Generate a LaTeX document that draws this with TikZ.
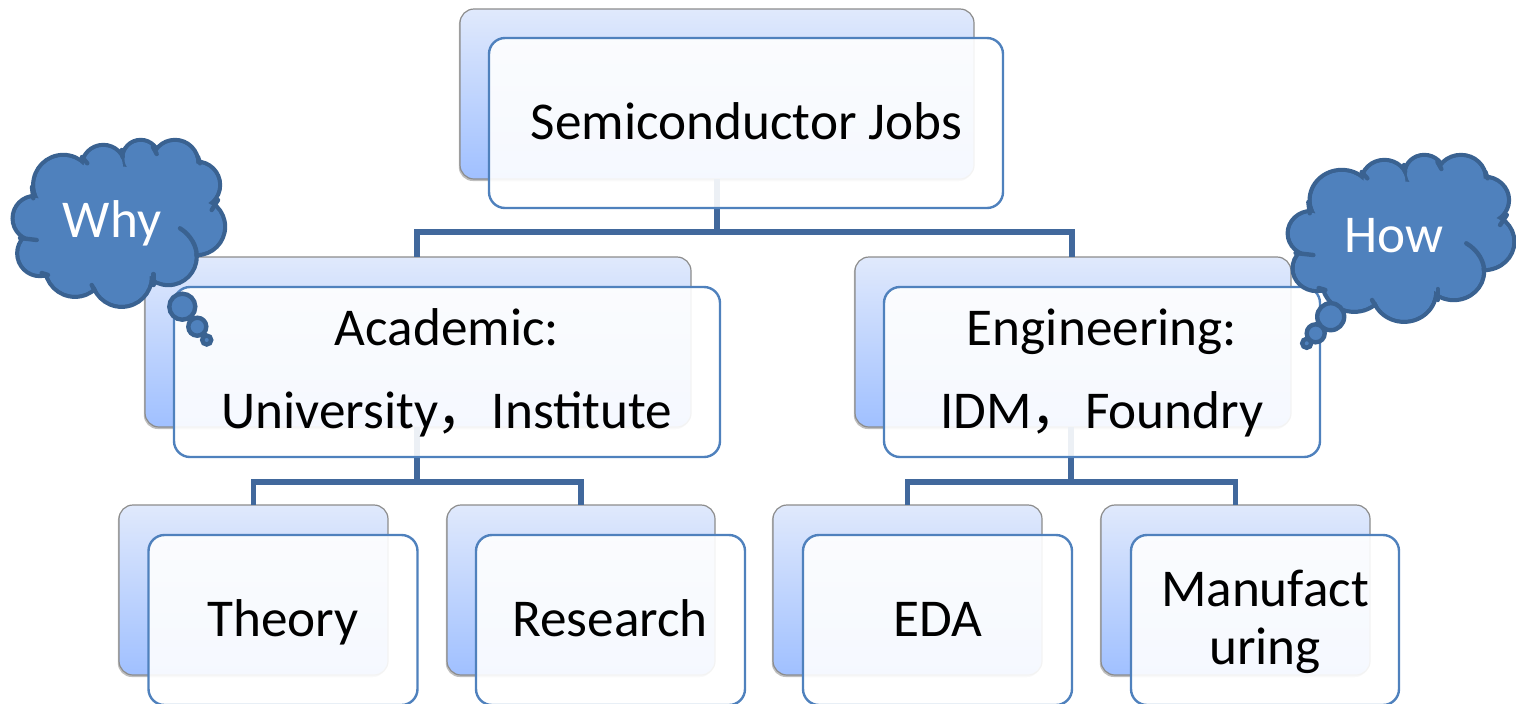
\documentclass[tikz,border=0pt]{standalone}
\usepackage{fontspec}
\setmainfont{Carlito}
\newfontfamily\cjk{Noto Sans CJK SC}
\usetikzlibrary{shadows}
\definecolor{lineblue}{HTML}{41689C}
\definecolor{frontblue}{HTML}{4F81BD}
\definecolor{cloudfill}{HTML}{4F81BD}
\definecolor{cloudline}{HTML}{3A6291}
\definecolor{backtop}{HTML}{E0E9FC}
\definecolor{backbot}{HTML}{A0C0FF}
\tikzset{
  x=0.5pt,y=-0.5pt,
  backbox/.style={draw=black!45,line width=0.6pt,rounded corners=7pt,top color=backtop,bottom color=backbot,minimum height=85pt,inner sep=0pt,outer sep=0pt,drop shadow={shadow xshift=-0.6pt,shadow yshift=-1pt,fill=black,opacity=.25}},
  frontbox/.style={draw=frontblue,line width=1.2pt,rounded corners=8pt,fill=white,fill opacity=0.9,minimum height=85pt,inner sep=0pt,outer sep=0pt},
  conn/.style={draw=lineblue,line width=2.8pt},
  lbl/.style={anchor=base,font=\fontsize{26.6}{32}\selectfont,text=black,inner sep=0pt},
  cloudlbl/.style={anchor=base,font=\fontsize{26.6}{32}\selectfont,text=white,inner sep=0pt},
  cloudedge/.style={draw=cloudline,line width=2.2pt,fill=cloudfill},
  cloudtail/.style={draw=cloudline,line width=2.2pt,line cap=round},
}
\newcommand{\lobes}[2]{%
  \path[#1] (63.3,185) circle[radius=30-#2] (103.3,166.7) circle[radius=21.7-#2]
  (140.7,158.3) circle[radius=18.3-#2] (175,163.3) circle[radius=23.3-#2]
  (196.7,185) circle[radius=23.3-#2] (196.7,226.7) circle[radius=28.3-#2]
  (168.3,256.7) circle[radius=28.3-#2] (121.7,276.7) circle[radius=30-#2]
  (75,266.7) circle[radius=30-#2] (40,253.3) circle[radius=22.7-#2]
  (35,218.3) circle[radius=22.3-#2];}
\newcommand{\cloudshape}{%
  \lobes{cloudedge}{0}
  \lobes{fill=cloudfill}{2}
  \fill[cloudfill] (50,190) -- (90,165) -- (190,170) -- (205,215) -- (180,262) -- (120,290) -- (60,282) -- (40,240) -- cycle;
  \draw[cloudtail] (87.3,163.3) -- (82,157);
  \draw[cloudtail] (122.7,157) -- (121.7,150);
  \draw[cloudtail] (156.7,154) -- (153,147);
  \draw[cloudtail] (200,163.3) -- (198,157);
  \draw[cloudtail] (211.7,210) -- (218,200);
  \draw[cloudtail] (180,228.3) .. controls (191,235) and (197,247) .. (196.7,256);
  \draw[cloudtail] (153.3,274) -- (153.3,285);
  \draw[cloudtail] (91.7,285) -- (95,291);
  \draw[cloudtail] (41.7,273) -- (48,275);
  \draw[cloudtail] (36.7,240) -- (20,238);
  \draw[cloudtail] (33.3,198.3) -- (32,187);
}
\begin{document}
\begin{tikzpicture}
\useasboundingbox (0,0) rectangle (1516,703);
\clip (0,0) rectangle (1516,703);
% back boxes
\node[backbox,minimum width=257pt] (rootB) at (717,94) {};
\node[backbox,minimum width=273pt] (acaB) at (418,342) {};
\node[backbox,minimum width=218pt] (engB) at (1073,342) {};
\node[backbox,minimum width=134.5pt] (thB) at (253.5,590) {};
\node[backbox,minimum width=134pt] (reB) at (581,590) {};
\node[backbox,minimum width=134.5pt] (edB) at (907.5,590) {};
\node[backbox,minimum width=134.5pt] (maB) at (1235.5,590) {};
% connectors
\draw[conn] (rootB.south) -- (717,232) coordinate (t1) -| ([xshift=-0.5pt]acaB.north);
\draw[conn] (t1) -| ([xshift=-0.5pt]engB.north);
\draw[conn] ([xshift=-0.5pt]acaB.south) -- (417,482) coordinate (t2) -| (thB.north);
\draw[conn] (t2) -| (reB.north);
\draw[conn] ([xshift=-1pt]engB.south) -- (1071,482) coordinate (t3) -| (edB.north);
\draw[conn] (t3) -| (maB.north);
% front boxes
\node[frontbox,minimum width=257pt] (rootF) at (746,123) {};
\node[frontbox,minimum width=273pt] (acaF) at (447,372) {};
\node[frontbox,minimum width=218pt] (engF) at (1102,372) {};
\node[frontbox,minimum width=134.5pt] (thF) at (283,620) {};
\node[frontbox,minimum width=134.5pt] (reF) at (610.5,620) {};
\node[frontbox,minimum width=134.5pt] (edF) at (937.5,620) {};
\node[frontbox,minimum width=134pt] (maF) at (1265,620) {};
% labels
\node[lbl] (t0) at (746.5,139) {Semiconductor Jobs};
\node[lbl] (ta1) at (447,345) {Academic:};
\node[lbl] (ta2) at (447,428) {University\hspace{-0.03em}{\cjk ，}\hspace{0.03em}Institute};
\node[lbl] (te1) at (1102,345) {Engineering:};
\node[lbl] (te2) at (1102,428) {IDM\hspace{-0.03em}{\cjk ，}\hspace{0.03em}Foundry};
\node[lbl] (tt) at (283,636) {Theory};
\node[lbl] (tr) at (610,636) {Research};
\node[lbl] (td) at (938,636) {EDA};
\node[lbl] (tm1) at (1265,606) {Manufact};
\node[lbl] (tm2) at (1265,664) {uring};
% clouds
\cloudshape
\draw[cloudedge] (182.3,306.7) circle[radius=13] (197.3,326.7) circle[radius=9] (206.7,340) circle[radius=4.5];
\begin{scope}[shift={(1274.2,15)},xscale=1.067]
\cloudshape
\end{scope}
\draw[cloudedge] (1330.7,316.7) circle[radius=13.5] (1315.7,333.3) circle[radius=9] (1306.7,343.3) circle[radius=4.5];
\node[cloudlbl] (why) at (112,237) {Why};
\node[cloudlbl] (how) at (1394,252) {How};
\end{tikzpicture}
\end{document}
